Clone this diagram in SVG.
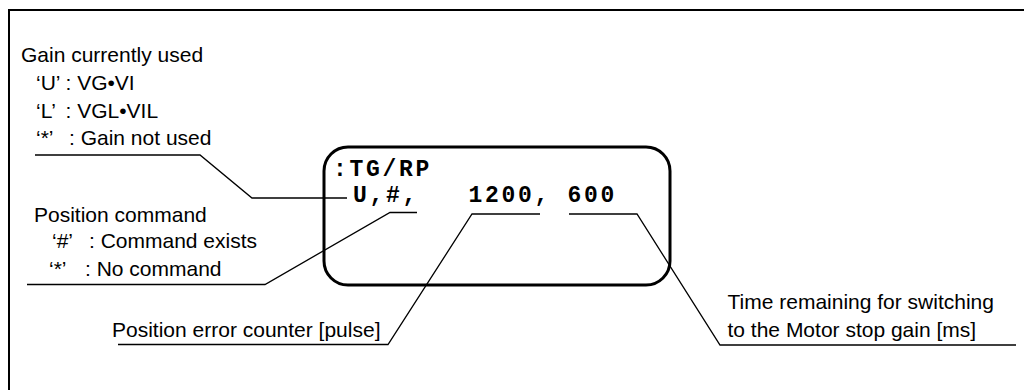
<svg xmlns="http://www.w3.org/2000/svg" width="1024" height="390" viewBox="0 0 1024 390">
<style>
.t{font-family:"Liberation Sans",Arial,sans-serif;font-size:21px;fill:#000}
.m{font-family:"Liberation Mono","Courier New",monospace;font-size:23px;letter-spacing:2.7px;font-weight:bold;fill:#000}
.ld{fill:none;stroke:#000;stroke-width:1.3}
</style>
<rect width="1024" height="390" fill="#fff"/>
<g id="frame">
<path d="M9,400 V10 H1030" fill="none" stroke="#000" stroke-width="2"/>
</g>
<g id="display">
<rect x="324" y="147" width="346" height="138" rx="24" ry="24" fill="none" stroke="#000" stroke-width="3"/>
<text class="m" x="333" y="176">:TG/RP</text>
<text class="m" x="353" y="202" xml:space="preserve">U,#,   1200, 600</text>
</g>
<g id="gain">
<text class="t" x="21" y="62">Gain currently used</text>
<text class="t" y="90"><tspan x="36">‘U’</tspan><tspan x="65.5">: VG•VI</tspan></text>
<text class="t" y="118"><tspan x="36">‘L’</tspan><tspan x="65.5">: VGL•VIL</tspan></text>
<text class="t" y="145"><tspan x="36">‘*’</tspan><tspan x="69">: Gain not used</tspan></text>
</g>
<g id="poscmd">
<text class="t" x="34" y="222">Position command</text>
<text class="t" y="248"><tspan x="52">‘#’</tspan><tspan x="89">: Command exists</tspan></text>
<text class="t" y="276"><tspan x="49">‘*’</tspan><tspan x="85">: No command</tspan></text>
</g>
<g id="poserr">
<text class="t" x="112" y="337">Position error counter [pulse]</text>
</g>
<g id="time">
<text class="t" x="727.5" y="309">Time remaining for switching</text>
<text class="t" x="727.5" y="337">to the Motor stop gain [ms]</text>
</g>
<g id="connectors">
<polyline class="ld" points="347,198 252,198 200,155 35,155"/>
<polyline class="ld" points="417,212.5 390,212.5 265,284.5 27,284.5"/>
<polyline class="ld" points="540,214 472,214 388,344.5 118,344.5"/>
<polyline class="ld" points="569,214 637,214 720,345 1016,345"/>
</g>
</svg>
